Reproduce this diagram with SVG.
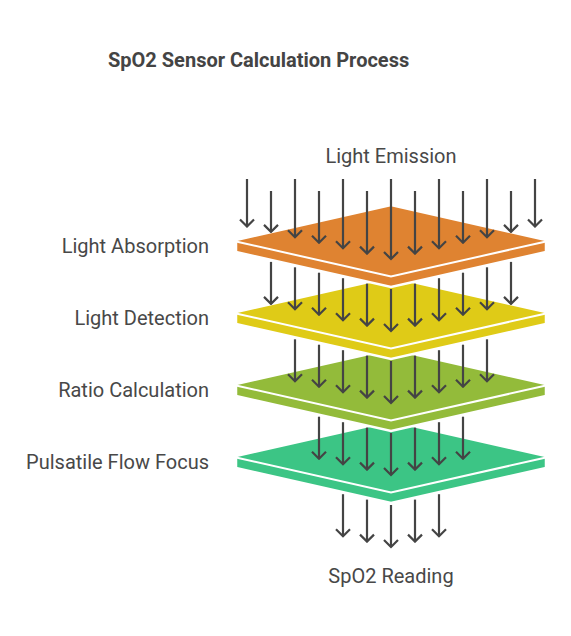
<svg xmlns="http://www.w3.org/2000/svg" width="571" height="636" viewBox="0 0 571 636">
<defs>
<style>
.t{font-family:Roboto,"Liberation Sans",sans-serif;font-size:20px;fill:#484848}
.title{font-family:Roboto,"Liberation Sans",sans-serif;font-size:20px;font-weight:bold;fill:#444}
.slab{stroke:#fff;stroke-width:2.5;stroke-linejoin:miter}
.edge{fill:none;stroke:#fff;stroke-width:2}
.arr{stroke:#444;stroke-width:2.2;fill:none;marker-end:url(#ah)}
</style>
<marker id="ah" viewBox="0 0 10 16" refX="8.5" refY="8" markerWidth="10" markerHeight="16" markerUnits="userSpaceOnUse" orient="auto">
<path d="M1.5,1 L8.5,8 L1.5,15" fill="none" stroke="#444" stroke-width="2.2"/>
</marker>
</defs>
<rect width="571" height="636" fill="#fff"/>
<text class="title" x="108" y="67">SpO2 Sensor Calculation Process</text>

<g id="pulsatile-flow-focus">
<polygon class="slab" fill="#3CC585" points="236,456 391,421 546,456 546,468 391,503 236,468"/>
<polyline class="edge" points="236,457.5 391,492.5 546,457.5"/>
<text class="t" x="209" y="469" text-anchor="end">Pulsatile Flow Focus</text>
</g>
<g id="ratio-calculation">
<polygon class="slab" fill="#93BB3A" points="236,384 391,349 546,384 546,396 391,431 236,396"/>
<polyline class="edge" points="236,385.5 391,420.5 546,385.5"/>
<text class="t" x="209" y="397" text-anchor="end">Ratio Calculation</text>
</g>
<g id="light-detection">
<polygon class="slab" fill="#DFCB17" points="236,312 391,277 546,312 546,324 391,359 236,324"/>
<polyline class="edge" points="236,313.5 391,348.5 546,313.5"/>
<text class="t" x="209" y="325" text-anchor="end">Light Detection</text>
</g>
<g id="light-absorption">
<polygon class="slab" fill="#DF8331" points="236,240 391,205 546,240 546,252 391,287 236,252"/>
<polyline class="edge" points="236,241.5 391,276.5 546,241.5"/>
<text class="t" x="209" y="253" text-anchor="end">Light Absorption</text>
</g>
<g id="light-emission">
<text class="t" x="391" y="163" text-anchor="middle">Light Emission</text>
</g>
<g id="spo2-reading">
<text class="t" x="391" y="583" text-anchor="middle">SpO2 Reading</text>
</g>

<g id="connectors">
<line class="arr" x1="247" y1="179" x2="247" y2="226.5"/>
<line class="arr" x1="271" y1="191" x2="271" y2="231.9"/>
<line class="arr" x1="295" y1="179" x2="295" y2="237.3"/>
<line class="arr" x1="319" y1="191" x2="319" y2="242.7"/>
<line class="arr" x1="343" y1="179" x2="343" y2="248.2"/>
<line class="arr" x1="367" y1="191" x2="367" y2="253.6"/>
<line class="arr" x1="391" y1="179" x2="391" y2="259"/>
<line class="arr" x1="415" y1="191" x2="415" y2="253.6"/>
<line class="arr" x1="439" y1="179" x2="439" y2="248.2"/>
<line class="arr" x1="463" y1="191" x2="463" y2="242.7"/>
<line class="arr" x1="487" y1="179" x2="487" y2="237.3"/>
<line class="arr" x1="511" y1="191" x2="511" y2="231.9"/>
<line class="arr" x1="535" y1="179" x2="535" y2="226.5"/>

<line class="arr" x1="271" y1="261.9" x2="271" y2="303.9"/>
<line class="arr" x1="295" y1="267.3" x2="295" y2="309.3"/>
<line class="arr" x1="319" y1="272.7" x2="319" y2="314.7"/>
<line class="arr" x1="343" y1="278.2" x2="343" y2="320.2"/>
<line class="arr" x1="367" y1="283.6" x2="367" y2="325.6"/>
<line class="arr" x1="391" y1="289" x2="391" y2="331"/>
<line class="arr" x1="415" y1="283.6" x2="415" y2="325.6"/>
<line class="arr" x1="439" y1="278.2" x2="439" y2="320.2"/>
<line class="arr" x1="463" y1="272.7" x2="463" y2="314.7"/>
<line class="arr" x1="487" y1="267.3" x2="487" y2="309.3"/>
<line class="arr" x1="511" y1="261.9" x2="511" y2="303.9"/>

<line class="arr" x1="295" y1="339.3" x2="295" y2="381.3"/>
<line class="arr" x1="319" y1="344.7" x2="319" y2="386.7"/>
<line class="arr" x1="343" y1="350.2" x2="343" y2="392.2"/>
<line class="arr" x1="367" y1="355.6" x2="367" y2="397.6"/>
<line class="arr" x1="391" y1="361" x2="391" y2="403"/>
<line class="arr" x1="415" y1="355.6" x2="415" y2="397.6"/>
<line class="arr" x1="439" y1="350.2" x2="439" y2="392.2"/>
<line class="arr" x1="463" y1="344.7" x2="463" y2="386.7"/>
<line class="arr" x1="487" y1="339.3" x2="487" y2="381.3"/>

<line class="arr" x1="319" y1="416.7" x2="319" y2="458.7"/>
<line class="arr" x1="343" y1="422.2" x2="343" y2="464.2"/>
<line class="arr" x1="367" y1="427.6" x2="367" y2="469.6"/>
<line class="arr" x1="391" y1="433" x2="391" y2="475"/>
<line class="arr" x1="415" y1="427.6" x2="415" y2="469.6"/>
<line class="arr" x1="439" y1="422.2" x2="439" y2="464.2"/>
<line class="arr" x1="463" y1="416.7" x2="463" y2="458.7"/>

<line class="arr" x1="343" y1="494.2" x2="343" y2="536.2"/>
<line class="arr" x1="367" y1="499.6" x2="367" y2="541.6"/>
<line class="arr" x1="391" y1="505" x2="391" y2="547"/>
<line class="arr" x1="415" y1="499.6" x2="415" y2="541.6"/>
<line class="arr" x1="439" y1="494.2" x2="439" y2="536.2"/>
</g>
</svg>
